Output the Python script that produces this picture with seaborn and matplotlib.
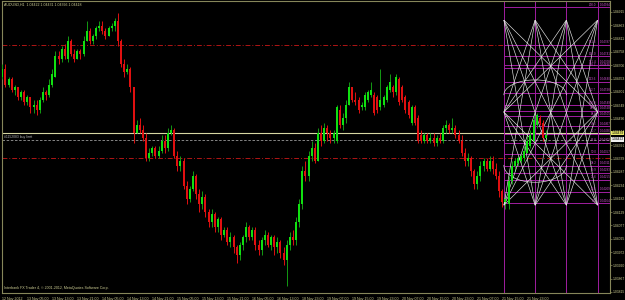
import numpy as np
import matplotlib
matplotlib.use("Agg")
import matplotlib.pyplot as plt
from matplotlib.collections import LineCollection
import seaborn as sns

# ---------------- data (AUDUSD, H1) ----------------
opens = [1.0466, 1.0469, 1.0463, 1.0465, 1.0461, 1.0462, 1.0458, 1.0460, 1.0456, 1.0458,
         1.0454, 1.0455, 1.0453, 1.0457, 1.0460, 1.0459, 1.0463, 1.0466, 1.0474, 1.0473,
         1.0477, 1.0473, 1.0480, 1.0475, 1.0473, 1.0476, 1.0475, 1.0480, 1.0484, 1.0480,
         1.0482, 1.0485, 1.0486, 1.0484, 1.0482, 1.0485, 1.0486, 1.0488, 1.0480, 1.0471,
         1.0468, 1.0469, 1.0462, 1.0444, 1.0447, 1.0445, 1.0442, 1.0434, 1.0436, 1.0438,
         1.0435, 1.0437, 1.0441, 1.0438, 1.0444, 1.0445, 1.0435, 1.0431, 1.0433, 1.0423,
         1.0418, 1.0422, 1.0427, 1.0420, 1.0416, 1.0419, 1.0413, 1.0409, 1.0412, 1.0407,
         1.0410, 1.0404, 1.0406, 1.0401, 1.0403, 1.0399, 1.0396, 1.0400, 1.0403, 1.0407,
         1.0403, 1.0406, 1.0400, 1.0398, 1.0402, 1.0404, 1.0400, 1.0403, 1.0399, 1.0401,
         1.0397, 1.0394, 1.0400, 1.0403, 1.0402, 1.0409, 1.0416, 1.0429, 1.0427, 1.0435,
         1.0438, 1.0433, 1.0444, 1.0441, 1.0446, 1.0444, 1.0442, 1.0441, 1.0453, 1.0447,
         1.0450, 1.0455, 1.0462, 1.0457, 1.0457, 1.0454, 1.0454, 1.0457, 1.0459, 1.0459,
         1.0458, 1.0454, 1.0455, 1.0457, 1.0461, 1.0462, 1.0460, 1.0465, 1.0462, 1.0458,
         1.0456, 1.0448, 1.0454, 1.0450, 1.0443, 1.0441, 1.0443, 1.0441, 1.0442, 1.0440,
         1.0442, 1.0441, 1.0446, 1.0447, 1.0445, 1.0446, 1.0443, 1.0441, 1.0436, 1.0433,
         1.0434, 1.0429, 1.0424, 1.0427, 1.0431, 1.0433, 1.0430, 1.0433, 1.0430, 1.0427,
         1.0421, 1.0417, 1.0416, 1.0425, 1.0431, 1.0432, 1.0433, 1.0434, 1.0436, 1.0439,
         1.0441, 1.0447, 1.0450, 1.0448, 1.0442]
highs = [1.0471, 1.0471, 1.0466, 1.0466, 1.0463, 1.0462, 1.0461, 1.0461, 1.0459, 1.0458,
         1.0457, 1.0457, 1.0458, 1.0462, 1.0461, 1.0465, 1.0469, 1.0476, 1.0476, 1.0478,
         1.0479, 1.0482, 1.0481, 1.0477, 1.0477, 1.0477, 1.0482, 1.0488, 1.0485, 1.0483,
         1.0486, 1.0488, 1.0488, 1.0485, 1.0486, 1.0487, 1.0489, 1.0491, 1.0481, 1.0473,
         1.0471, 1.0470, 1.0462, 1.0449, 1.0450, 1.0447, 1.0444, 1.0438, 1.0439, 1.0439,
         1.0439, 1.0443, 1.0443, 1.0446, 1.0447, 1.0446, 1.0437, 1.0435, 1.0434, 1.0425,
         1.0423, 1.0429, 1.0428, 1.0422, 1.0421, 1.0420, 1.0414, 1.0414, 1.0413, 1.0411,
         1.0411, 1.0407, 1.0407, 1.0405, 1.0404, 1.0400, 1.0401, 1.0404, 1.0409, 1.0408,
         1.0407, 1.0407, 1.0402, 1.0403, 1.0406, 1.0405, 1.0404, 1.0404, 1.0403, 1.0402,
         1.0399, 1.0402, 1.0405, 1.0406, 1.0411, 1.0418, 1.0431, 1.0433, 1.0437, 1.0441,
         1.0440, 1.0446, 1.0447, 1.0448, 1.0447, 1.0445, 1.0445, 1.0455, 1.0455, 1.0452,
         1.0457, 1.0464, 1.0462, 1.0460, 1.0458, 1.0456, 1.0460, 1.0461, 1.0464, 1.0460,
         1.0459, 1.0469, 1.0459, 1.0463, 1.0467, 1.0463, 1.0467, 1.0466, 1.0463, 1.0459,
         1.0457, 1.0455, 1.0455, 1.0451, 1.0445, 1.0444, 1.0444, 1.0444, 1.0444, 1.0443,
         1.0444, 1.0447, 1.0449, 1.0448, 1.0450, 1.0447, 1.0445, 1.0443, 1.0438, 1.0436,
         1.0435, 1.0430, 1.0429, 1.0433, 1.0434, 1.0434, 1.0435, 1.0435, 1.0432, 1.0429,
         1.0422, 1.0420, 1.0427, 1.0433, 1.0434, 1.0435, 1.0436, 1.0439, 1.0443, 1.0445,
         1.0452, 1.0452, 1.0451, 1.0449, 1.0445]
lows = [1.0465, 1.0462, 1.0462, 1.0460, 1.0459, 1.0457, 1.0457, 1.0455, 1.0455, 1.0452,
        1.0452, 1.0451, 1.0452, 1.0456, 1.0457, 1.0458, 1.0462, 1.0466, 1.0471, 1.0472,
        1.0473, 1.0472, 1.0474, 1.0472, 1.0473, 1.0473, 1.0474, 1.0480, 1.0479, 1.0479,
        1.0481, 1.0484, 1.0483, 1.0481, 1.0482, 1.0484, 1.0484, 1.0478, 1.0470, 1.0466,
        1.0467, 1.0460, 1.0440, 1.0444, 1.0444, 1.0441, 1.0433, 1.0433, 1.0435, 1.0434,
        1.0434, 1.0436, 1.0436, 1.0437, 1.0443, 1.0434, 1.0429, 1.0429, 1.0422, 1.0416,
        1.0417, 1.0421, 1.0418, 1.0413, 1.0414, 1.0411, 1.0407, 1.0407, 1.0405, 1.0405,
        1.0402, 1.0403, 1.0400, 1.0399, 1.0397, 1.0393, 1.0394, 1.0398, 1.0401, 1.0402,
        1.0402, 1.0398, 1.0396, 1.0396, 1.0400, 1.0399, 1.0398, 1.0396, 1.0397, 1.0395,
        1.0392, 1.0384, 1.0398, 1.0400, 1.0400, 1.0407, 1.0414, 1.0425, 1.0425, 1.0433,
        1.0432, 1.0433, 1.0439, 1.0440, 1.0441, 1.0440, 1.0440, 1.0440, 1.0446, 1.0445,
        1.0448, 1.0455, 1.0456, 1.0455, 1.0452, 1.0453, 1.0453, 1.0456, 1.0458, 1.0451,
        1.0452, 1.0453, 1.0454, 1.0456, 1.0460, 1.0458, 1.0459, 1.0455, 1.0456, 1.0452,
        1.0450, 1.0447, 1.0447, 1.0440, 1.0440, 1.0440, 1.0440, 1.0440, 1.0439, 1.0439,
        1.0440, 1.0440, 1.0444, 1.0444, 1.0444, 1.0442, 1.0440, 1.0435, 1.0431, 1.0431,
        1.0427, 1.0422, 1.0422, 1.0425, 1.0429, 1.0429, 1.0429, 1.0428, 1.0426, 1.0419,
        1.0415, 1.0414, 1.0414, 1.0424, 1.0429, 1.0431, 1.0432, 1.0433, 1.0436, 1.0438,
        1.0440, 1.0446, 1.0447, 1.0441, 1.0441]
closes = [1.0469, 1.0463, 1.0465, 1.0461, 1.0462, 1.0458, 1.0460, 1.0456, 1.0458, 1.0454,
          1.0455, 1.0453, 1.0457, 1.0460, 1.0459, 1.0463, 1.0467, 1.0474, 1.0473, 1.0477,
          1.0474, 1.0480, 1.0475, 1.0473, 1.0476, 1.0475, 1.0480, 1.0484, 1.0480, 1.0482,
          1.0485, 1.0486, 1.0484, 1.0482, 1.0485, 1.0486, 1.0488, 1.0480, 1.0471, 1.0468,
          1.0469, 1.0462, 1.0444, 1.0447, 1.0445, 1.0442, 1.0434, 1.0436, 1.0438, 1.0435,
          1.0437, 1.0441, 1.0438, 1.0444, 1.0445, 1.0435, 1.0431, 1.0433, 1.0423, 1.0418,
          1.0422, 1.0427, 1.0420, 1.0416, 1.0419, 1.0413, 1.0409, 1.0412, 1.0407, 1.0410,
          1.0404, 1.0406, 1.0401, 1.0403, 1.0399, 1.0396, 1.0400, 1.0403, 1.0407, 1.0403,
          1.0406, 1.0400, 1.0398, 1.0402, 1.0404, 1.0400, 1.0403, 1.0399, 1.0401, 1.0397,
          1.0394, 1.0400, 1.0403, 1.0402, 1.0409, 1.0416, 1.0429, 1.0427, 1.0435, 1.0438,
          1.0433, 1.0444, 1.0441, 1.0446, 1.0444, 1.0442, 1.0444, 1.0454, 1.0447, 1.0450,
          1.0455, 1.0462, 1.0457, 1.0456, 1.0453, 1.0455, 1.0459, 1.0460, 1.0461, 1.0452,
          1.0453, 1.0457, 1.0458, 1.0462, 1.0464, 1.0460, 1.0466, 1.0456, 1.0457, 1.0453,
          1.0451, 1.0454, 1.0448, 1.0441, 1.0441, 1.0443, 1.0441, 1.0442, 1.0440, 1.0442,
          1.0441, 1.0446, 1.0447, 1.0445, 1.0446, 1.0443, 1.0441, 1.0436, 1.0433, 1.0434,
          1.0429, 1.0424, 1.0427, 1.0431, 1.0433, 1.0430, 1.0433, 1.0430, 1.0427, 1.0421,
          1.0417, 1.0418, 1.0425, 1.0431, 1.0433, 1.0434, 1.0435, 1.0437, 1.0441, 1.0443,
          1.0449, 1.0451, 1.0448, 1.0442, 1.0443]

date_labels = ["12 Nov 2012", "13 Nov 05:00", "13 Nov 13:00", "13 Nov 21:00",
               "14 Nov 05:00", "14 Nov 13:00", "14 Nov 21:00", "15 Nov 05:00",
               "15 Nov 13:00", "15 Nov 21:00", "16 Nov 05:00", "16 Nov 13:00",
               "18 Nov 23:00", "19 Nov 07:00", "19 Nov 15:00", "19 Nov 23:00",
               "20 Nov 07:00", "20 Nov 15:00", "20 Nov 23:00", "21 Nov 07:00",
               "21 Nov 15:00", "21 Nov 23:00"]
date_tick_bars = [0, 8, 16, 24, 32, 40, 48, 56, 64, 72, 80, 88, 96, 104, 112,
                  120, 128, 136, 144, 152, 160, 168]
price_ticks = [1.03815, 1.03867, 1.03920, 1.03972, 1.04025, 1.04077, 1.04129,
               1.04182, 1.04234, 1.04287, 1.04339, 1.04391, 1.04444, 1.04496,
               1.04549, 1.04601, 1.04653, 1.04706, 1.04758, 1.04811, 1.04863,
               1.04915]

red_levels = [1.04785, 1.04340]          # dash-dot horizontal lines
yellow_level = 1.04439                   # solid horizontal line
order_level = 1.04412                    # "buy limit" dashed line
bid_label = 1.04422

fib_levels = [0.0, 11.8, 23.6, 30.9, 38.2, 50.0, 61.8, 70.7, 78.6, 88.6, 94.5,
              100.0, 112.7, 123.6, 138.2, 141.4, 150.0, 161.8, 200.0]
fib_low = 1.04164
fib_high = 1.04549
fib_start_bar = 160.5
zone_bars = [160.5, 170.5, 180.5, 190.5]
star_top = 1.04883
star_mid = 1.04522
star_bot = 1.04156

title_text = "AUDUSD,H1  1.04422 1.04431 1.04396 1.04418"
copyright_text = "Interbank FX Trader 4, \u00a9 2001-2012, MetaQuotes Software Corp."
order_text = "#1152083 buy limit"

# ---------------- style ----------------
sns.set_style("dark", {"axes.facecolor": "black", "figure.facecolor": "black"})
plt.rcParams['font.family'] = ['Liberation Sans', 'DejaVu Sans']

FG = '#cfcf95'
FRAME = '#86865a'
UP_BODY = '#10e010'
UP_WICK = '#139a13'
DN = '#e01010'
PURPLE = '#a01ea0'
PTEXT = '#c850c8'

fig = plt.figure(figsize=(6.25, 3.0), dpi=100)
fig.patch.set_facecolor('black')
ax = fig.add_axes([2/625, 7/300, 608/625, 292/300])
ax.set_facecolor('black')
ax.grid(False)

o = np.array(opens); h = np.array(highs); l = np.array(lows); c = np.array(closes)
idx = np.arange(len(c))
up = c >= o

# wicks
ax.vlines(idx[up], l[up], h[up], color=UP_WICK, lw=0.7, zorder=3)
ax.vlines(idx[~up], l[~up], h[~up], color=DN, lw=0.7, zorder=3)
# bodies
bottom = np.minimum(o, c)
height = np.maximum(np.abs(c - o), 0.000015)
ax.bar(idx[up], height[up], bottom=bottom[up], width=0.64, color=UP_BODY,
       linewidth=0, zorder=4)
ax.bar(idx[~up], height[~up], bottom=bottom[~up], width=0.64, color=DN,
       linewidth=0, zorder=4)

xmin, xmax = -0.1, 194.46
ax.set_xlim(xmin, xmax)
ax.set_ylim(1.03811, 1.04958)

# horizontal lines
for lv in red_levels:
    ax.axhline(lv, color='#b01515', lw=0.7, ls=(0, (5, 2, 1, 2)), zorder=2)
ax.axhline(yellow_level, color='#d6d6a2', lw=0.8, zorder=2)
ax.axhline(order_level, color='#9a9a9a', lw=0.6, ls=(0, (3, 2)), zorder=2)
ax.text(0.6, order_level + 0.00003, order_text, color='#b8b8b8', fontsize=2.4,
        va='bottom', ha='left', zorder=5)

# fibonacci levels
fib_prices = [fib_low + (fib_high - fib_low) * lv / 100.0 for lv in fib_levels]
ax.hlines(fib_prices, fib_start_bar, xmax, color=PURPLE, lw=0.7, zorder=2)
for lv, fp in zip(fib_levels, fib_prices):
    ax.text(190.1, fp + 0.00002, f"{lv:.1f}", color=PTEXT, fontsize=2.2,
            ha='right', va='bottom', zorder=5)
    ax.text(191.2, fp + 0.00002, f"{fp:.5f}", color=PTEXT, fontsize=2.2,
            ha='left', va='bottom', zorder=5)
for zb in zone_bars:
    ax.axvline(zb, color=PURPLE, lw=0.7, zorder=2)

# white star lattice
segs = []
for xt in zone_bars:
    for xb in zone_bars:
        if xt != xb:
            segs.append([(xt, star_top), (xb, star_bot)])
for xm in (zone_bars[0], zone_bars[-1]):
    for xx in zone_bars:
        if xx != xm:
            segs.append([(xm, star_mid), (xx, star_top)])
            segs.append([(xm, star_mid), (xx, star_bot)])
ax.add_collection(LineCollection(segs, colors='#e6e6e6', lw=0.45, zorder=3))
t = np.linspace(0, np.pi, 60)
ax.plot(170.5 + 10 * np.cos(t), 1.04589 + 0.00059 * np.sin(t), color='#e6e6e6', lw=0.45, zorder=3)
ax.plot(170.5 + 10 * np.cos(t), 1.04313 - 0.00067 * np.sin(t), color='#e6e6e6', lw=0.45, zorder=3)

# axes / ticks
for s in ax.spines.values():
    s.set_color(FRAME)
    s.set_linewidth(0.8)
    s.set_visible(True)
ax.yaxis.tick_right()
ax.set_yticks(price_ticks)
ax.set_yticklabels([f"{p:.5f}" for p in price_ticks])
ax.set_xticks(date_tick_bars)
ax.set_xticklabels(date_labels, ha='left')
ax.tick_params(axis='y', colors=FRAME, labelcolor=FG, labelsize=2.4, length=1.5,
               width=0.5, pad=0.5, direction='out')
ax.tick_params(axis='x', colors=FRAME, labelcolor=FG, labelsize=2.6, length=2,
               width=0.5, pad=0.6, direction='out')

# price boxes on the right axis
ax.text(1.0025, yellow_level, f"{yellow_level:.5f}", transform=ax.get_yaxis_transform(),
        fontsize=2.4, color='black', va='center', ha='left', zorder=6, clip_on=False,
        bbox=dict(boxstyle='square,pad=0.08', fc='#e8e86a', ec='none'))
ax.text(1.0025, bid_label, f"{bid_label:.5f}", transform=ax.get_yaxis_transform(),
        fontsize=2.4, color='black', va='top', ha='left', zorder=6, clip_on=False,
        bbox=dict(boxstyle='square,pad=0.08', fc='#f0f0f0', ec='none'))

fig.text(4/625, 1 - 5/300, title_text, color=FG, fontsize=2.6, va='center', ha='left')
fig.text(4/625, (300 - 288)/300, copyright_text, color=FG, fontsize=2.6, va='center', ha='left')

fig.savefig("out.png", dpi=100, facecolor='black')
